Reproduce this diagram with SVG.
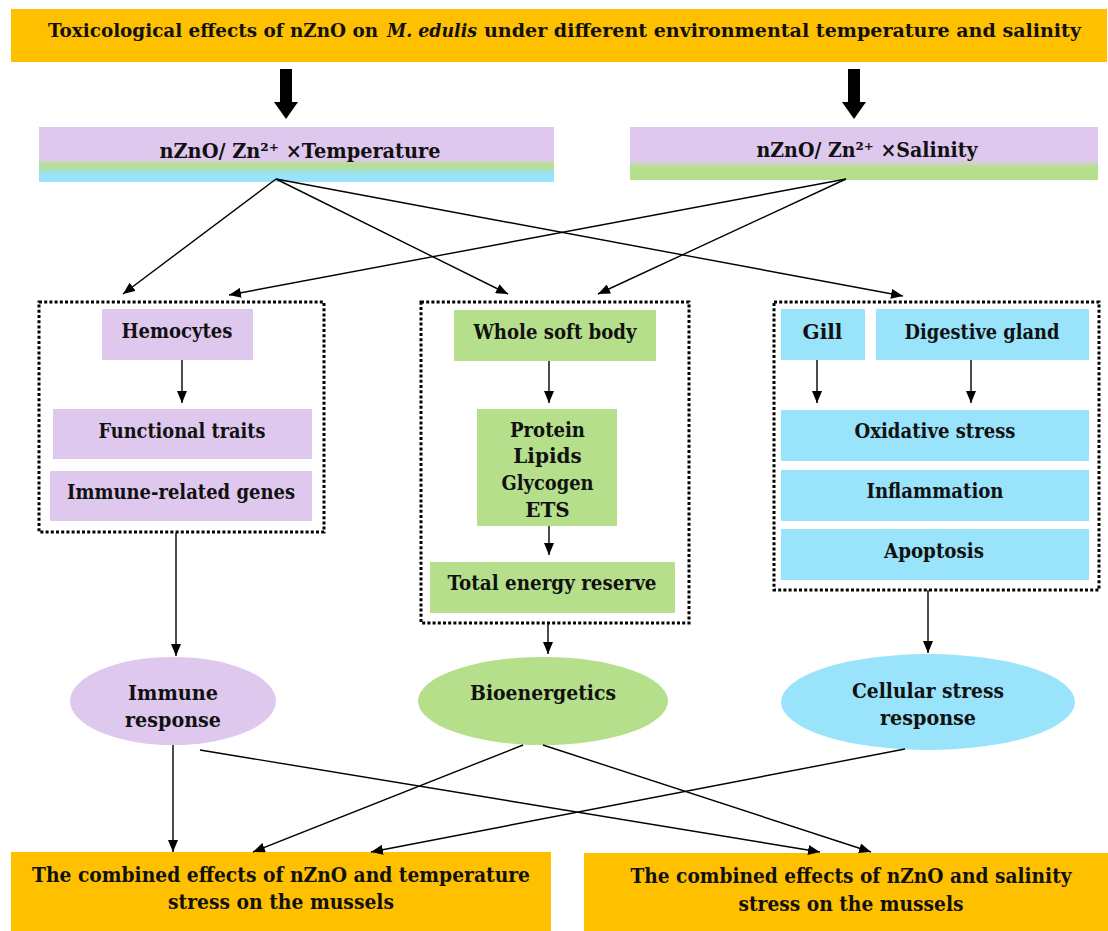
<svg xmlns="http://www.w3.org/2000/svg" width="1108" height="931" viewBox="0 0 1108 931">
<defs>
<style>
.t{font-family:"DejaVu Serif","Liberation Serif",serif;font-weight:bold;font-size:20px;text-anchor:middle;fill:#111;}
.s{text-anchor:start;font-size:18.5px;}
.or{fill:#FFC000;}
.pu{fill:#DFC8EE;}
.gr{fill:#B6DF8B;}
.bl{fill:#99E3FB;}
.dot{fill:none;stroke:#000;stroke-width:3;stroke-dasharray:3 2.2;}
.ln{stroke:#000;stroke-width:1.4;fill:none;marker-end:url(#ah);}
</style>
<marker id="ah" viewBox="0 0 12 10" refX="12" refY="5" markerWidth="12" markerHeight="10" orient="auto" markerUnits="userSpaceOnUse"><path d="M0,0 L12,5 L0,10 z" fill="#000"/></marker>
<linearGradient id="gT" x1="0" y1="0" x2="0" y2="1">
<stop offset="0" stop-color="#DFC8EE"/><stop offset="0.59" stop-color="#DFC8EE"/><stop offset="0.69" stop-color="#B6DF8B"/><stop offset="0.87" stop-color="#99E3FB"/><stop offset="1" stop-color="#99E3FB"/>
</linearGradient>
<linearGradient id="gS" x1="0" y1="0" x2="0" y2="1">
<stop offset="0" stop-color="#DFC8EE"/><stop offset="0.62" stop-color="#DFC8EE"/><stop offset="0.77" stop-color="#B6DF8B"/><stop offset="1" stop-color="#B6DF8B"/>
</linearGradient>
</defs>
<rect width="1108" height="931" fill="#fff"/>

<g id="title">
<rect class="or" x="11" y="9" width="1096" height="53"/>
<text class="t s" x="48" y="37" textLength="330" lengthAdjust="spacingAndGlyphs">Toxicological effects of nZnO on</text>
<text class="t s" x="387" y="37" font-style="italic" textLength="90" lengthAdjust="spacingAndGlyphs">M. edulis</text>
<text class="t s" x="484" y="37" textLength="597" lengthAdjust="spacingAndGlyphs">under different environmental temperature and salinity</text>
</g>

<g id="temperature">
<rect x="39" y="127" width="515" height="55" fill="url(#gT)"/>
<text class="t" x="300" y="158" textLength="281" lengthAdjust="spacingAndGlyphs">nZnO/ Zn²⁺ ×Temperature</text>
</g>

<g id="salinity">
<rect x="630" y="127" width="468" height="53" fill="url(#gS)"/>
<text class="t" x="867" y="157" textLength="221" lengthAdjust="spacingAndGlyphs">nZnO/ Zn²⁺ ×Salinity</text>
</g>

<g id="immune-group">
<rect class="dot" x="39" y="302" width="285" height="230"/>
<g id="hemocytes"><rect class="pu" x="102" y="309" width="151" height="51"/><text class="t" x="177" y="338" textLength="111" lengthAdjust="spacingAndGlyphs">Hemocytes</text></g>
<g id="functional-traits"><rect class="pu" x="53" y="409" width="259" height="50"/><text class="t" x="182" y="438" textLength="167" lengthAdjust="spacingAndGlyphs">Functional traits</text></g>
<g id="immune-genes"><rect class="pu" x="50" y="471" width="262" height="50"/><text class="t" x="181" y="499" textLength="228" lengthAdjust="spacingAndGlyphs">Immune-related genes</text></g>
</g>

<g id="energy-group">
<rect class="dot" x="421" y="302" width="268" height="321"/>
<g id="whole-soft-body"><rect class="gr" x="454" y="310" width="202" height="51"/><text class="t" x="555" y="339" textLength="163" lengthAdjust="spacingAndGlyphs">Whole soft body</text></g>
<g id="components"><rect class="gr" x="477" y="409" width="140" height="117"/>
<text class="t" x="547.5" y="437" textLength="75" lengthAdjust="spacingAndGlyphs">Protein</text>
<text class="t" x="547.5" y="463">Lipids</text>
<text class="t" x="547.5" y="490" textLength="92" lengthAdjust="spacingAndGlyphs">Glycogen</text>
<text class="t" x="547.5" y="517">ETS</text></g>
<g id="total-energy"><rect class="gr" x="430" y="562" width="245" height="51"/><text class="t" x="552" y="590" textLength="209" lengthAdjust="spacingAndGlyphs">Total energy reserve</text></g>
</g>

<g id="stress-group">
<rect class="dot" x="774" y="302" width="325" height="288"/>
<g id="gill"><rect class="bl" x="781" y="309" width="84" height="51"/><text class="t" x="822.5" y="339">Gill</text></g>
<g id="digestive-gland"><rect class="bl" x="876" y="309" width="213" height="51"/><text class="t" x="982" y="339" textLength="155" lengthAdjust="spacingAndGlyphs">Digestive gland</text></g>
<g id="oxidative"><rect class="bl" x="781" y="410" width="308" height="51"/><text class="t" x="935" y="438" textLength="161" lengthAdjust="spacingAndGlyphs">Oxidative stress</text></g>
<g id="inflammation"><rect class="bl" x="781" y="470" width="308" height="51"/><text class="t" x="935" y="498" textLength="137" lengthAdjust="spacingAndGlyphs">Inflammation</text></g>
<g id="apoptosis"><rect class="bl" x="781" y="529" width="308" height="51"/><text class="t" x="934" y="558" textLength="100" lengthAdjust="spacingAndGlyphs">Apoptosis</text></g>
</g>

<g id="immune-response">
<ellipse class="pu" cx="173" cy="701" rx="103" ry="44"/>
<text class="t" x="173" y="700" textLength="90" lengthAdjust="spacingAndGlyphs">Immune</text>
<text class="t" x="173" y="727" textLength="96" lengthAdjust="spacingAndGlyphs">response</text>
</g>
<g id="bioenergetics">
<ellipse class="gr" cx="543" cy="701" rx="125" ry="44"/>
<text class="t" x="543" y="700" textLength="146" lengthAdjust="spacingAndGlyphs">Bioenergetics</text>
</g>
<g id="cellular-stress">
<ellipse class="bl" cx="928" cy="702" rx="147" ry="48"/>
<text class="t" x="928" y="698" textLength="152" lengthAdjust="spacingAndGlyphs">Cellular stress</text>
<text class="t" x="928" y="725" textLength="96" lengthAdjust="spacingAndGlyphs">response</text>
</g>

<g id="combined-temperature">
<rect class="or" x="11" y="852" width="540" height="79"/>
<text class="t" x="281" y="882" textLength="498" lengthAdjust="spacingAndGlyphs">The combined effects of nZnO and temperature</text>
<text class="t" x="281" y="909" textLength="226" lengthAdjust="spacingAndGlyphs">stress on the mussels</text>
</g>
<g id="combined-salinity">
<rect class="or" x="584" y="853" width="524" height="78"/>
<text class="t" x="851" y="883" textLength="441" lengthAdjust="spacingAndGlyphs">The combined effects of nZnO and salinity</text>
<text class="t" x="851" y="911" textLength="225" lengthAdjust="spacingAndGlyphs">stress on the mussels</text>
</g>

<g id="connectors">
<polygon points="280,69 292,69 292,102 298,102 286,119 274,102 280,102" fill="#000"/>
<polygon points="848,69 860,69 860,102 866,102 854,119 842,102 848,102" fill="#000"/>
<line class="ln" x1="276" y1="179" x2="123" y2="294"/>
<line class="ln" x1="276" y1="179" x2="508" y2="294"/>
<line class="ln" x1="276" y1="179" x2="903" y2="296"/>
<line class="ln" x1="846" y1="179" x2="229" y2="295"/>
<line class="ln" x1="846" y1="179" x2="598" y2="294"/>
<line class="ln" x1="182" y1="360" x2="182" y2="403"/>
<line class="ln" x1="549" y1="361" x2="549" y2="403"/>
<line class="ln" x1="549" y1="526" x2="549" y2="555"/>
<line class="ln" x1="817" y1="360" x2="817" y2="403"/>
<line class="ln" x1="971" y1="360" x2="971" y2="403"/>
<line class="ln" x1="176" y1="533" x2="176" y2="656"/>
<line class="ln" x1="548" y1="623" x2="548" y2="654"/>
<line class="ln" x1="928" y1="590" x2="928" y2="653"/>
<line class="ln" x1="173" y1="745" x2="173" y2="852"/>
<line class="ln" x1="200" y1="750" x2="820" y2="852"/>
<line class="ln" x1="523" y1="745" x2="253" y2="852"/>
<line class="ln" x1="543" y1="745" x2="871" y2="852"/>
<line class="ln" x1="905" y1="749" x2="371" y2="852"/>
</g>
</svg>
